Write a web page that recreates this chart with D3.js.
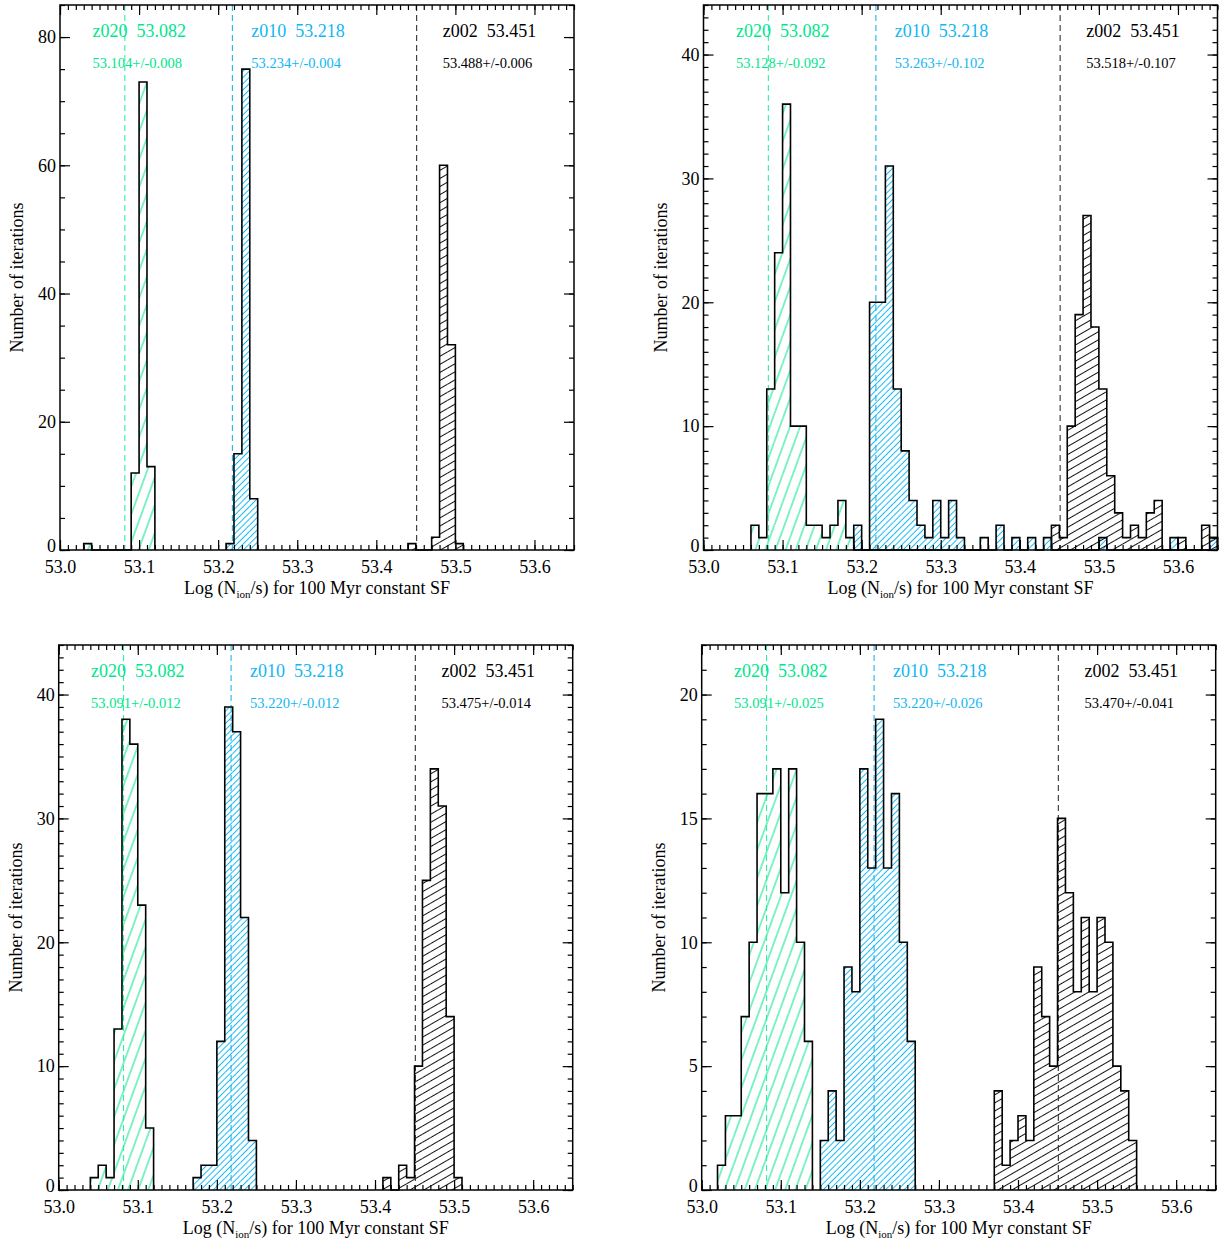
<!DOCTYPE html>
<html>
<head>
<meta charset="utf-8">
<script src="https://cdn.jsdelivr.net/npm/d3@7"></script>
<style>
  body { margin: 0; background: #fff; }
  svg { display: block; }
  text { font-family: "Liberation Serif", "Times New Roman", serif; }
</style>
</head>
<body>
<svg id="chart" width="1222" height="1244"></svg>
<script>
// ---- data -------------------------------------------------------------
const binWidth = 0.01;
const modelNames = ["z020", "z010", "z002"];
const modelLogQ = [53.082, 53.218, 53.451];
const xTickValues = [53.0, 53.1, 53.2, 53.3, 53.4, 53.5, 53.6];
const xTickLabels = ["53.0", "53.1", "53.2", "53.3", "53.4", "53.5", "53.6"];

// fitted mean and spread for each panel (z020, z010, z002)
const fitMeans = [
  [53.104, 53.234, 53.488],
  [53.128, 53.263, 53.518],
  [53.091, 53.220, 53.475],
  [53.091, 53.220, 53.470]
];
const fitErrors = [
  [0.008, 0.004, 0.006],
  [0.092, 0.102, 0.107],
  [0.012, 0.012, 0.014],
  [0.025, 0.026, 0.041]
];

// histogram counts in 0.01 dex bins; *Start is the left edge of the first bin
const aZ020Start = 53.03, aZ020 = [1, 0, 0, 0, 0, 0, 12, 73, 13];
const aZ010Start = 53.21, aZ010 = [1, 15, 75, 8];
const aZ002Start = 53.44, aZ002 = [1, 0, 0, 2, 60, 32, 1];

const bZ020Start = 53.06, bZ020 = [2, 1, 13, 24, 36, 10, 10, 2, 2, 1, 2, 4, 1,
  0, 0, 0, 0, 0, 0, 0, 0, 0, 0, 0, 0, 0, 0, 0, 0, 1];
const bZ010Start = 53.19, bZ010 = [2, 0, 20, 20, 31, 13, 8, 4, 2, 1, 4, 1, 4, 1,
  0, 0, 0, 0, 2, 0, 1, 0, 1, 0, 1, 0, 0, 0, 0, 0, 0, 1, 0, 0, 0, 0, 0, 0, 0, 0,
  1, 0, 0, 0, 0, 1];
const bZ002Start = 53.44, bZ002 = [2, 1, 10, 19, 27, 18, 13, 6, 3, 1, 2, 1, 3, 4,
  0, 0, 1, 0, 0, 2, 1];

const cZ020Start = 53.04, cZ020 = [1, 2, 1, 13, 38, 36, 23, 5];
const cZ010Start = 53.17, cZ010 = [1, 2, 2, 12, 39, 37, 22, 4];
const cZ002Start = 53.41, cZ002 = [1, 0, 2, 1, 10, 25, 34, 31, 14, 1];

const dZ020Start = 53.02, dZ020 = [1, 3, 3, 7, 10, 16, 16, 17, 12, 17, 10, 6];
const dZ010Start = 53.15, dZ010 = [2, 4, 2, 9, 8, 17, 13, 19, 13, 16, 10, 6];
const dZ002Start = 53.37, dZ002 = [4, 1, 2, 3, 2, 9, 7, 5, 15, 12, 8, 11, 8, 11, 10, 5, 4, 2];

// ---- styles and layout ------------------------------------------------
const textColors = ["#00e68c", "#12b6f2", "#000000"];
const dashColors = ["#2ef0a0", "#1fb4ee", "#333333"];
const hatchStyle = [
  { color: "#00e68c", angle: 70, spacing: 9.5, width: 1 },
  { color: "#12b6f2", angle: 45, spacing: 4.4, width: 1 },
  { color: "#111111", angle: 30, spacing: 7, width: 1 }
];

const layout = [
  { x0: 60,    x1: 574,    top: 5,   bottom: 550,  yMax: 85, yMajor: 20, yMinor: 5,
    hists: [[aZ020Start, aZ020], [aZ010Start, aZ010], [aZ002Start, aZ002]] },
  { x0: 703.5, x1: 1217.5, top: 5,   bottom: 550,  yMax: 44, yMajor: 10, yMinor: 1,
    hists: [[bZ020Start, bZ020], [bZ010Start, bZ010], [bZ002Start, bZ002]] },
  { x0: 58.7,  x1: 572.7,  top: 645, bottom: 1190, yMax: 44, yMajor: 10, yMinor: 1,
    hists: [[cZ020Start, cZ020], [cZ010Start, cZ010], [cZ002Start, cZ002]] },
  { x0: 701.7, x1: 1215.7, top: 645, bottom: 1190, yMax: 22, yMajor: 5, yMinor: 1,
    hists: [[dZ020Start, dZ020], [dZ010Start, dZ010], [dZ002Start, dZ002]] }
];

const svg = d3.select("#chart");
const defs = svg.append("defs");

hatchStyle.forEach((h, k) => {
  const p = defs.append("pattern")
    .attr("id", "hatch" + k)
    .attr("patternUnits", "userSpaceOnUse")
    .attr("width", h.spacing)
    .attr("height", h.spacing)
    .attr("patternTransform", `rotate(${-h.angle})`);
  p.append("line")
    .attr("x1", 0).attr("x2", h.spacing)
    .attr("y1", h.spacing / 2).attr("y2", h.spacing / 2)
    .attr("stroke", h.color)
    .attr("stroke-width", h.width);
});

function range(a, b, step) {
  const out = [];
  const n = Math.round((b - a) / step);
  for (let i = 0; i <= n; i++) out.push(+(a + i * step).toFixed(4));
  return out;
}

function drawPanel(p, pi) {
  const x = d3.scaleLinear().domain([53.0, 53.65]).range([p.x0, p.x1]);
  const y = d3.scaleLinear().domain([0, p.yMax]).range([p.bottom, p.top]);
  const g = svg.append("g");

  const series = p.hists.map(([start, counts]) =>
    counts.map((c, j) => ({ lo: start + j * binWidth, hi: start + (j + 1) * binWidth, c })));

  // hatched fills
  series.forEach((bins, k) => {
    g.append("g").selectAll("rect")
      .data(bins.filter(b => b.c > 0))
      .join("rect")
      .attr("x", b => x(b.lo))
      .attr("width", b => x(b.hi) - x(b.lo))
      .attr("y", b => y(b.c))
      .attr("height", b => y(0) - y(b.c))
      .attr("fill", `url(#hatch${k})`);
  });

  // model reference lines
  modelLogQ.forEach((v, k) => {
    g.append("line")
      .attr("x1", x(v)).attr("x2", x(v))
      .attr("y1", p.top).attr("y2", p.bottom)
      .attr("stroke", dashColors[k])
      .attr("stroke-width", 1.1)
      .attr("stroke-dasharray", "6,4");
  });

  // histogram outlines
  const line = d3.line().x(d => x(d[0])).y(d => y(d[1]));
  series.forEach(bins => {
    const pts = [[bins[0].lo, 0]];
    bins.forEach(b => { pts.push([b.lo, b.c]); pts.push([b.hi, b.c]); });
    pts.push([bins[bins.length - 1].hi, 0]);
    g.append("path")
      .attr("d", line(pts))
      .attr("fill", "none")
      .attr("stroke", "#000")
      .attr("stroke-width", 1.6)
      .attr("stroke-linejoin", "miter");
  });

  // axes with inward ticks
  const xMinor = range(53.0, 53.65, 0.01);
  const yMinorVals = range(0, p.yMax, p.yMinor);
  const yMajorVals = range(0, p.yMax, p.yMajor).filter(v => v <= p.yMax);

  const axes = [
    [d3.axisBottom(x).tickValues(xMinor).tickSize(-5).tickFormat(""), `translate(0,${p.bottom})`],
    [d3.axisBottom(x).tickValues(xTickValues).tickSize(-10).tickPadding(10)
      .tickFormat((d, i) => xTickLabels[i]), `translate(0,${p.bottom})`],
    [d3.axisTop(x).tickValues(xMinor).tickSize(-5).tickFormat(""), `translate(0,${p.top})`],
    [d3.axisTop(x).tickValues(xTickValues).tickSize(-10).tickFormat(""), `translate(0,${p.top})`],
    [d3.axisLeft(y).tickValues(yMinorVals).tickSize(-5).tickFormat(""), `translate(${p.x0},0)`],
    [d3.axisLeft(y).tickValues(yMajorVals).tickSize(-10).tickPadding(4)
      .tickFormat(d3.format("d")), `translate(${p.x0},0)`],
    [d3.axisRight(y).tickValues(yMinorVals).tickSize(-5).tickFormat(""), `translate(${p.x1},0)`],
    [d3.axisRight(y).tickValues(yMajorVals).tickSize(-10).tickFormat(""), `translate(${p.x1},0)`]
  ];
  axes.forEach(([ax, tr], ai) => {
    const a = g.append("g").attr("transform", tr).call(ax);
    a.select(".domain").remove();
    a.selectAll(".tick line").attr("stroke", "#000").attr("stroke-width", 1.2);
    a.selectAll(".tick text")
      .attr("fill", "#000")
      .style("font-size", "18px")
      .style("font-family", '"Liberation Serif", "Times New Roman", serif');
    // the zero label on the count axis sits a little above the corner
    if (ai === 5) {
      a.selectAll(".tick text").filter(d => d === 0).attr("dy", "0.1em");
    }
  });

  // frame
  g.append("rect")
    .attr("x", p.x0).attr("y", p.top)
    .attr("width", p.x1 - p.x0).attr("height", p.bottom - p.top)
    .attr("fill", "none").attr("stroke", "#000").attr("stroke-width", 1.5);

  // axis titles
  const xt = g.append("text")
    .attr("x", (p.x0 + p.x1) / 2).attr("y", p.bottom + 44)
    .attr("text-anchor", "middle").style("font-size", "18px");
  xt.append("tspan").text("Log (N");
  xt.append("tspan").attr("dy", 4).style("font-size", "11px").text("ion");
  xt.append("tspan").attr("dy", -4).text("/s) for 100 Myr constant SF");

  g.append("text")
    .attr("transform", `translate(${p.x0 - 37},${(p.top + p.bottom) / 2}) rotate(-90)`)
    .attr("text-anchor", "middle")
    .style("font-size", "18px")
    .text("Number of iterations");

  // model labels and fitted values
  const labelX = [53.041, 53.242, 53.484];
  modelNames.forEach((name, k) => {
    g.append("text")
      .attr("x", x(labelX[k])).attr("y", p.top + 32.3)
      .attr("fill", textColors[k])
      .style("font-size", "18px")
      .style("white-space", "pre")
      .text(`${name}  ${modelLogQ[k].toFixed(3)}`);
    g.append("text")
      .attr("x", x(labelX[k])).attr("y", p.top + 63.3)
      .attr("fill", textColors[k])
      .style("font-size", "14.5px")
      .text(`${fitMeans[pi][k].toFixed(3)}+/-${fitErrors[pi][k].toFixed(3)}`);
  });
}

layout.forEach(drawPanel);
</script>
</body>
</html>
